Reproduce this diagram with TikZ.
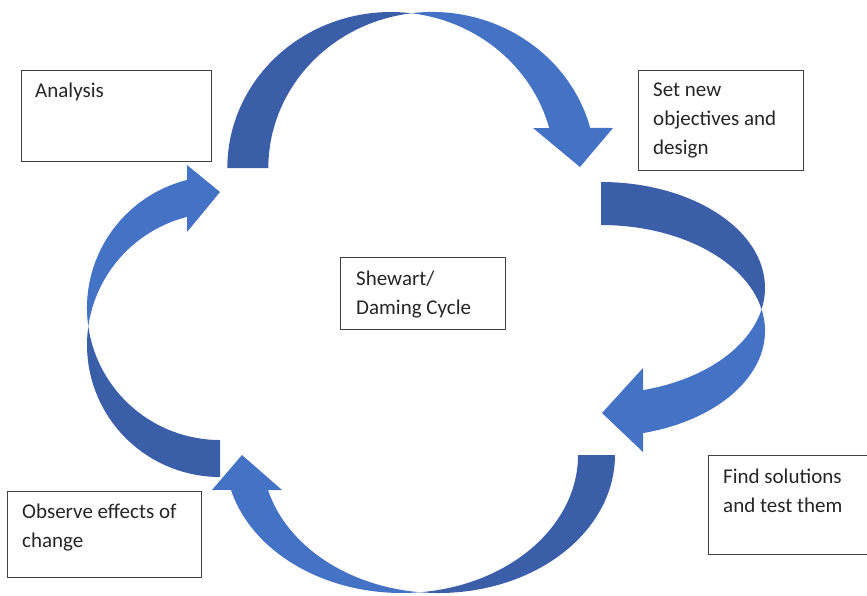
\documentclass[tikz,border=0pt]{standalone}
\usepackage{fontspec}
\setmainfont{Carlito}
\definecolor{frontblue}{RGB}{68,114,196}
\definecolor{backblue}{RGB}{58,94,168}
\definecolor{framegray}{RGB}{64,64,64}
\definecolor{inkgray}{RGB}{38,38,38}
\begin{document}
\begin{tikzpicture}[x=1pt,y=-1pt,
  framebox/.style={draw=framegray, line width=1.2pt, fill=white, anchor=north west, inner sep=0pt},
  % a multi-line label is anchored at the baseline of its last line
  boxlabel/.style={anchor=base west, align=left, inner sep=0pt, text=inkgray,
    font=\fontsize{21}{29}\selectfont},
  backband/.style={fill=backblue},
  frontband/.style={fill=frontblue}]
\useasboundingbox (0,0) rectangle (867,595);

% ---- top arrow: Analysis -> design ----
\path[backband] (227.3,168)
  arc[start angle=180, end angle=277.2, x radius=163.7, y radius=156]
  arc[start angle=262.8, end angle=180, x radius=163.7, y radius=156] -- cycle;
\path[frontband] (411.5,13.2)
  arc[start angle=262.8, end angle=345.14, x radius=163.7, y radius=156]
  -- (613,128) -- (580,167) -- (533,128) -- (549.2,128)
  arc[start angle=345.14, end angle=277.2, x radius=163.7, y radius=156] -- cycle;

% ---- right arrow: design -> solutions ----
\path[backband] (601,182)
  arc[start angle=-90, end angle=11.73, x radius=164, y radius=105.8]
  arc[start angle=-11.73, end angle=-90, x radius=164, y radius=105.8] -- cycle;
\path[frontband] (761.6,309.3)
  arc[start angle=-11.73, end angle=75.16, x radius=164, y radius=105.8]
  -- (643,452) -- (602,413) -- (643,368) -- (643,390.1)
  arc[start angle=75.16, end angle=11.73, x radius=164, y radius=105.8] -- cycle;

% ---- bottom arrow: solutions -> observe ----
\path[backband] (615,455)
  arc[start angle=0, end angle=96.02, x radius=176.4, y radius=138]
  arc[start angle=83.98, end angle=0, x radius=176.4, y radius=138] -- cycle;
\path[frontband] (420.1,592.2)
  arc[start angle=83.98, end angle=165.31, x radius=176.4, y radius=138]
  -- (212,490) -- (242,455) -- (282,490) -- (268,490)
  arc[start angle=165.31, end angle=96.02, x radius=176.4, y radius=138] -- cycle;

% ---- left arrow: observe -> analysis ----
\path[backband] (220,477)
  arc[start angle=90, end angle=188.05, x radius=133, y radius=132.1]
  arc[start angle=171.95, end angle=90, x radius=133, y radius=132.1] -- cycle;
\path[frontband] (88.3,326.4)
  arc[start angle=171.95, end angle=255.64, x radius=133, y radius=132.1]
  -- (187,165) -- (220,192) -- (187,232) -- (187,216.9)
  arc[start angle=255.64, end angle=188.05, x radius=133, y radius=132.1] -- cycle;

% ---- boxes ----
\node[framebox, minimum width=190pt, minimum height=91pt] (analysis) at (21,70) {};
\node[framebox, minimum width=165pt, minimum height=100pt] (design) at (638,70) {};
\node[framebox, minimum width=165pt, minimum height=72pt] (cycle) at (340,257) {};
\node[framebox, minimum width=165pt, minimum height=99pt] (solutions) at (708,455) {};
\node[framebox, minimum width=194pt, minimum height=86pt] (observe) at (7,491) {};

% ---- texts ----
\node[boxlabel] (analysistext) at (35,97) {Analysis};
\node[boxlabel] (designtext) at (653,154) {Set new\\objectives and\\design};
\node[boxlabel] (cycletext) at (356,314) {Shewart/\\Daming Cycle};
\node[boxlabel] (solutionstext) at (723,512) {Find solutions\\and test them};
\node[boxlabel] (observetext) at (22,547) {Observe effects of\\change};
\end{tikzpicture}
\end{document}
